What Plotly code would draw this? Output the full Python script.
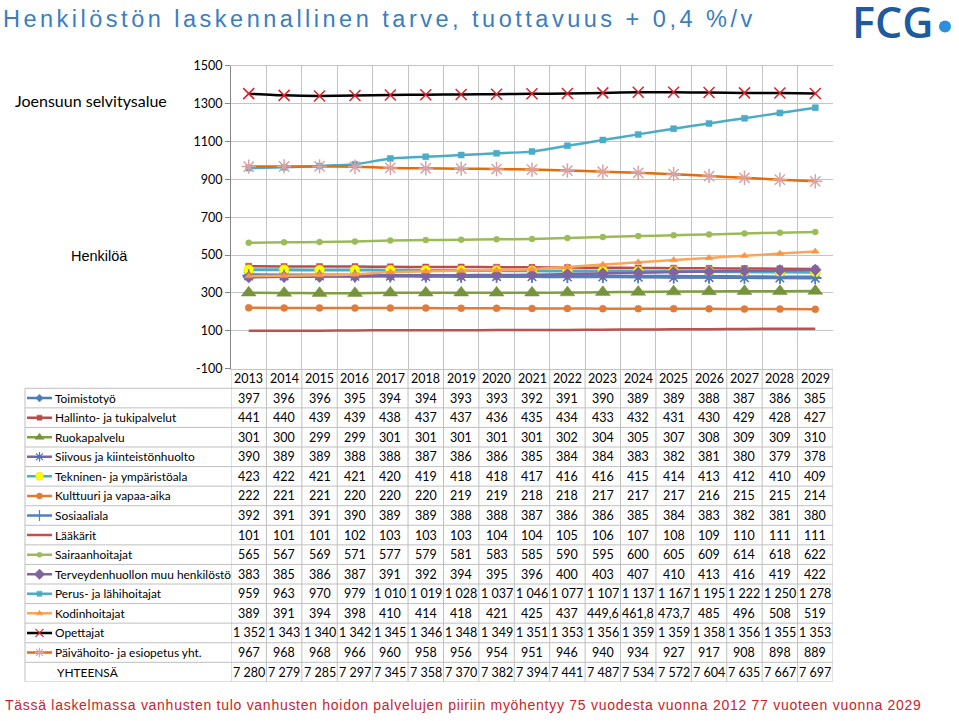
import plotly.graph_objects as go

# ---------------- data ----------------
years = [str(y) for y in range(2013, 2030)]

categories = [
    "Toimistotyö", "Hallinto- ja tukipalvelut", "Ruokapalvelu",
    "Siivous ja kiinteistönhuolto", "Tekninen- ja ympäristöala",
    "Kulttuuri ja vapaa-aika", "Sosiaaliala", "Lääkärit", "Sairaanhoitajat",
    "Terveydenhuollon muu henkilöstö", "Perus- ja lähihoitajat", "Kodinhoitajat",
    "Opettajat", "Päivähoito- ja esiopetus yht.",
]
total_label = "YHTEENSÄ"

toimistotyo = [397, 396, 396, 395, 394, 394, 393, 393, 392, 391, 390, 389, 389, 388, 387, 386, 385]
hallinto = [441, 440, 439, 439, 438, 437, 437, 436, 435, 434, 433, 432, 431, 430, 429, 428, 427]
ruokapalvelu = [301, 300, 299, 299, 301, 301, 301, 301, 301, 302, 304, 305, 307, 308, 309, 309, 310]
siivous = [390, 389, 389, 388, 388, 387, 386, 386, 385, 384, 384, 383, 382, 381, 380, 379, 378]
tekninen = [423, 422, 421, 421, 420, 419, 418, 418, 417, 416, 416, 415, 414, 413, 412, 410, 409]
kulttuuri = [222, 221, 221, 220, 220, 220, 219, 219, 218, 218, 217, 217, 217, 216, 215, 215, 214]
sosiaaliala = [392, 391, 391, 390, 389, 389, 388, 388, 387, 386, 386, 385, 384, 383, 382, 381, 380]
laakarit = [101, 101, 101, 102, 103, 103, 103, 104, 104, 105, 106, 107, 108, 109, 110, 111, 111]
sairaanhoitajat = [565, 567, 569, 571, 577, 579, 581, 583, 585, 590, 595, 600, 605, 609, 614, 618, 622]
terveydenhuolto = [383, 385, 386, 387, 391, 392, 394, 395, 396, 400, 403, 407, 410, 413, 416, 419, 422]
perus = [959, 963, 970, 979, 1010, 1019, 1028, 1037, 1046, 1077, 1107, 1137, 1167, 1195, 1222, 1250, 1278]
kodinhoitajat = [389, 391, 394, 398, 410, 414, 418, 421, 425, 437, 449.6, 461.8, 473.7, 485, 496, 508, 519]
opettajat = [1352, 1343, 1340, 1342, 1345, 1346, 1348, 1349, 1351, 1353, 1356, 1359, 1359, 1358, 1356, 1355, 1353]
paivahoito = [967, 968, 968, 966, 960, 958, 956, 954, 951, 946, 940, 934, 927, 917, 908, 898, 889]
yhteensa = [7280, 7279, 7285, 7297, 7345, 7358, 7370, 7382, 7394, 7441, 7487, 7534, 7572, 7604, 7635, 7667, 7697]

series_values = [toimistotyo, hallinto, ruokapalvelu, siivous, tekninen, kulttuuri,
                 sosiaaliala, laakarit, sairaanhoitajat, terveydenhuolto, perus,
                 kodinhoitajat, opettajat, paivahoito]

y_ticks = [-100, 100, 300, 500, 700, 900, 1100, 1300, 1500]

# ---------------- styles ----------------
# (line colour, marker symbol, marker size, marker colour, marker line colour, line width)
styles = [
    ("#4A7EBB", "diamond", 7, "#4A7EBB", "#4A7EBB", 2.5),
    ("#BE4B48", "square", 6, "#BE4B48", "#BE4B48", 2.5),
    ("#7F9F3F", "triangle-up", 13, "#77933C", "#77933C", 2.5),
    ("#7E64A2", "asterisk-open", 10, "#4F6EB5", "#4F6EB5", 2.5),
    ("#4BACC6", "circle", 10, "#FFFF00", "#D8D800", 3),
    ("#E07B39", "circle", 7, "#E07B39", "#E07B39", 2.5),
    ("#4F81BD", "cross-thin-open", 9, "#4F81BD", "#4F81BD", 2.5),
    ("#C0504D", None, 0, "#C0504D", "#C0504D", 2.5),
    ("#9BBB59", "circle", 6, "#9BBB59", "#9BBB59", 2.5),
    ("#8064A2", "diamond", 9, "#8064A2", "#8064A2", 2.5),
    ("#4BACC6", "square", 6, "#4BACC6", "#4BACC6", 2.5),
    ("#F9A65A", "triangle-up", 7, "#F79646", "#F79646", 2.5),
    ("#000000", "x-thin-open", 11, "#E0202A", "#E0202A", 2.5),
    ("#E46C0A", "asterisk-open", 12, "#D9A3A3", "#D9A3A3", 2.5),
]

W, H = 959, 721
# vertical calibration of the capture (measured): shown_y = 0.9756 * page_y + 8.6
VS, VO = 0.9756, 8.6

def pxx(x):
    return x / W

def pxy(y):
    page_y = (y - VO) / VS
    return 1 - page_y / H

GRID = "#C4C4C4"
TBL = "#BFBFBF"
FONT = "Lato, Arial, sans-serif"

fig = go.Figure()

# ---------------- chart traces ----------------
for name, vals, st in zip(categories, series_values, styles):
    lc, sym, ms, mc, mlc, lw = st
    mode = "lines+markers" if sym else "lines"
    marker = dict(symbol=sym or "circle", size=ms, color=mc,
                  line=dict(color=mlc, width=1.5 if "open" in (sym or "") else 0.5))
    fig.add_trace(go.Scatter(
        x=years, y=vals, name=name, mode=mode,
        line=dict(color=lc, width=lw, shape="spline", smoothing=0.5),
        marker=marker, xaxis="x", yaxis="y", showlegend=False,
        hoverinfo="x+y+name",
    ))

# ---------------- table: legend keys ----------------
for i, (name, st) in enumerate(zip(categories, styles)):
    row = i + 1
    lc, sym, ms, mc, mlc, lw = st
    fig.add_trace(go.Scatter(
        x=[27, 52], y=[row, row], mode="lines",
        line=dict(color=lc, width=2.5), xaxis="x3", yaxis="y2",
        showlegend=False, hoverinfo="skip"))
    if sym:
        fig.add_trace(go.Scatter(
            x=[39.5], y=[row], mode="markers",
            marker=dict(symbol=sym, size=max(5, min(ms, 9) - 1), color=mc,
                        line=dict(color=mlc, width=1.2 if "open" in sym else 0.5)),
            xaxis="x3", yaxis="y2", showlegend=False, hoverinfo="skip"))

annotations = []

def fmt(v):
    if isinstance(v, float) and not float(v).is_integer():
        return f"{v:.1f}".replace(".", ",")
    return f"{int(v):,}".replace(",", " ")

# header years (category axis: annotation x is the category's serial index)
for j, yr in enumerate(years):
    annotations.append(dict(x=j, y=0, xref="x", yref="y2", text=yr, showarrow=False,
                            font=dict(family=FONT, size=12.5, color="#000000"),
                            xanchor="center", yanchor="middle"))

table_rows = categories + [total_label]
table_vals = series_values + [yhteensa]
for i, (lab, vals) in enumerate(zip(table_rows, table_vals)):
    row = i + 1
    annotations.append(dict(x=pxx(53) if lab != total_label else pxx(55), y=row,
                            xref="paper", yref="y2", text=lab, showarrow=False,
                            font=dict(family=FONT, size=11.9, color="#000000"),
                            xanchor="left", yanchor="middle"))
    for j, v in enumerate(vals):
        annotations.append(dict(x=j, y=row, xref="x", yref="y2", text=fmt(v),
                                showarrow=False,
                                font=dict(family=FONT, size=12.5, color="#000000"),
                                xanchor="center", yanchor="middle"))

# texts
annotations += [
    dict(x=pxx(1), y=pxy(20), xref="paper", yref="paper", xanchor="left", yanchor="middle",
         text='<span style="letter-spacing:3.5px">Henkilöstön laskennallinen tarve, tuottavuus + 0,4 %/v</span>',
         showarrow=False,
         font=dict(family="Liberation Sans, Arial, sans-serif", size=23.5, color="#3A7DC0")),
    dict(x=pxx(13), y=pxy(101), xref="paper", yref="paper", xanchor="left", yanchor="middle",
         text="Joensuun selvitysalue", showarrow=False,
         font=dict(family=FONT, size=16, color="#000000")),
    dict(x=pxx(69), y=pxy(256), xref="paper", yref="paper", xanchor="left", yanchor="middle",
         text="Henkilöä", showarrow=False,
         font=dict(family="Liberation Sans, Arial, sans-serif", size=14.5, color="#000000")),
    dict(x=pxx(4), y=0, xref="paper", yref="paper", xanchor="left", yanchor="bottom",
         borderpad=0,
         text='<span style="letter-spacing:0.72px">Tässä laskelmassa vanhusten tulo vanhusten hoidon palvelujen piiriin myöhentyy 75 vuodesta vuonna 2012 77 vuoteen vuonna 2029</span>',
         showarrow=False,
         font=dict(family="Liberation Sans, Arial, sans-serif", size=14, color="#CC2229")),
    dict(x=pxx(851), y=pxy(22), xref="paper", yref="paper", xanchor="left", yanchor="middle",
         borderpad=0,
         text="FCG", showarrow=False,
         font=dict(family="Open Sans, sans-serif", size=43, color="#1D5A9E", weight=600)),
]

# ---------------- table grid shapes ----------------
shapes = []
line = dict(color=TBL, width=1)
for r in range(16):
    yb = r + 0.5
    shapes.append(dict(type="line", xref="paper", yref="y2", x0=pxx(25), x1=pxx(833),
                       y0=yb, y1=yb, line=line, layer="below"))
for k in range(18):
    xb = k - 0.5
    shapes.append(dict(type="line", xref="x", yref="y2", x0=xb, x1=xb,
                       y0=-0.5, y1=15.5, line=line, layer="below"))
shapes.append(dict(type="line", xref="paper", yref="y2", x0=pxx(25), x1=pxx(25),
                   y0=0.5, y1=15.5, line=line, layer="below"))
# FCG logo dot
shapes.append(dict(type="circle", xref="paper", yref="paper", x0=pxx(939), x1=pxx(951),
                   y0=pxy(33), y1=pxy(21), fillcolor="#2A90DC", line=dict(width=0)))

fig.update_layout(
    width=W, height=H, margin=dict(l=0, r=0, t=0, b=0),
    paper_bgcolor="white", plot_bgcolor="white",
    xaxis=dict(type="category", domain=[pxx(231), pxx(833)], range=[-0.5, 16.5],
               tickson="boundaries", showgrid=True, gridcolor=GRID, gridwidth=1,
               showticklabels=False, ticks="", showline=True, linecolor=GRID,
               mirror=True, zeroline=False, anchor="y", fixedrange=True),
    yaxis=dict(domain=[pxy(368), pxy(66)], range=[-100, 1500], tickmode="array",
               tickvals=y_ticks, ticktext=[str(v) for v in y_ticks],
               showgrid=True, gridcolor=GRID, gridwidth=1, zeroline=False,
               ticks="outside", ticklen=5, tickcolor="#868686",
               showline=True, linecolor="#868686", anchor="x",
               tickfont=dict(family=FONT, size=12.5, color="#000000"), fixedrange=True),
    xaxis3=dict(domain=[pxx(25), pxx(231)], range=[25, 231], visible=False,
                anchor="y2", fixedrange=True),
    yaxis2=dict(domain=[pxy(680), pxy(368)], range=[15.5, -0.5], visible=False,
                anchor="x", fixedrange=True),
    annotations=annotations,
    shapes=shapes,
    showlegend=False,
)

fig.write_html(
    "out.html",
    config={"displayModeBar": False},
    post_script=(
        "document.documentElement.style.margin='0';"
        "document.documentElement.style.padding='0';"
        "document.body.style.margin='0';document.body.style.padding='0';"
        "document.body.style.overflow='hidden';"
        "var gd=document.getElementById('{plot_id}');"
        "gd.style.position='fixed';gd.style.top='0px';gd.style.left='0px';"
    ),
)
